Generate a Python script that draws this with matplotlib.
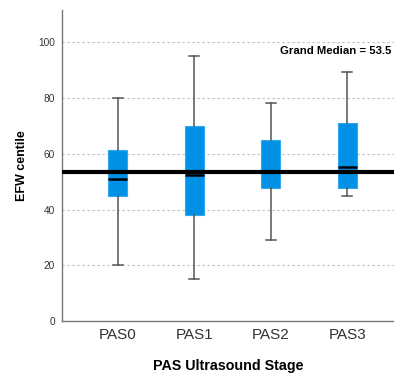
import matplotlib
matplotlib.use('Agg')
import matplotlib.pyplot as plt

stages = ['PAS0', 'PAS1', 'PAS2', 'PAS3']
whisker_low = [20, 15, 29, 45]
q1 = [44.8, 38.2, 47.8, 47.8]
medians = [51.1, 52.3, 53.3, 55.3]
q3 = [61.2, 70.1, 65.1, 71.1]
whisker_high = [80, 95.2, 78.2, 89.4]
grand_median = 53.5

plt.rcParams['font.family'] = ['Liberation Sans', 'DejaVu Sans']

dpi = 100
fig = plt.figure(figsize=(394/dpi, 373/dpi), dpi=dpi)
ax = fig.add_axes([0.157, 0.139, 0.843, 0.834])

stats = []
for i in range(len(stages)):
    stats.append({'label': stages[i], 'whislo': whisker_low[i], 'q1': q1[i],
                  'med': medians[i], 'q3': q3[i], 'whishi': whisker_high[i],
                  'fliers': []})

ax.bxp(stats, positions=range(len(stages)), widths=0.25, patch_artist=True,
       showfliers=False,
       boxprops=dict(facecolor='#0091e6', edgecolor='#33a8f0', linewidth=0.8),
       medianprops=dict(color='black', linewidth=1.8),
       whiskerprops=dict(color='#555555', linewidth=1.1),
       capprops=dict(color='#555555', linewidth=1.1),
       capwidths=0.13, zorder=3)

ax.axhline(grand_median, color='black', linewidth=3, zorder=4)
ax.text(2.12, 96.8, 'Grand Median = %.1f' % grand_median, fontsize=8.2,
        fontweight='bold', ha='left', va='center')

ax.set_xlim(-0.73, 3.61)
ax.set_ylim(0, 111.5)
ax.set_yticks([0, 20, 40, 60, 80, 100])
ax.yaxis.grid(True, linestyle=(0, (2, 2.5)), color='#bbbbbb', linewidth=0.8)
ax.set_axisbelow(True)
ax.tick_params(axis='y', length=0, labelsize=7.3, labelcolor='#333333', pad=5)
ax.tick_params(axis='x', length=0, labelsize=11, labelcolor='#333333', pad=5)
for s in ['top', 'right']:
    ax.spines[s].set_visible(False)
for s in ['left', 'bottom']:
    ax.spines[s].set_color('#777777')
    ax.spines[s].set_linewidth(1)

ax.set_xlabel('PAS Ultrasound Stage', fontsize=10.3, fontweight='bold', labelpad=12)
ax.set_ylabel('EFW centile', fontsize=9, fontweight='bold', labelpad=7)

plt.savefig('out.png', dpi=dpi)
